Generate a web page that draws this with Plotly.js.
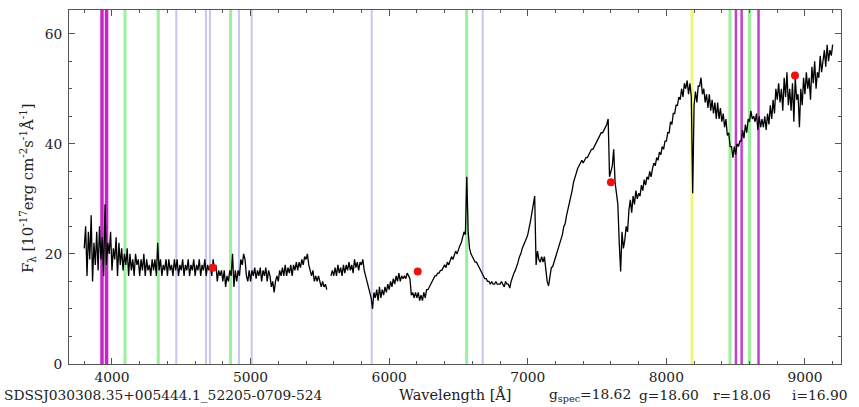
<!DOCTYPE html>
<html>
<head>
<meta charset="utf-8">
<script src="https://cdn.plot.ly/plotly-3.0.1.min.js"></script>
<style>html,body{margin:0;padding:0;background:#fff;}#chart{width:859px;height:407px;}</style>
</head>
<body>
<div id="chart"></div>
<script>
const waveStart = 3800;
const waveStep = 10;
const flux = [
 21,25,16,24,19,27,15,22,18,24,
 17,25,19,23,16,29,18,22,20,24,
 17,21,19,23,16,22,18,21,17,20,
 18,21,16,20,17,19,16,20,18,19,
 16,19,17,20,16,19,17,18,16,19,
 17,19,16,22,17,19,16,18,17,19,
 16,19,17,18,16,19,17,19,16,18,
 17,19,16,18,17,19,16,18,17,19,
 16,18,17,19,16,18,17,19,16,18,
 17,18,16,19,17,18,15,17,16,17,
 15,17,14,16,15,17,16,20,14,17,
 15,17,16,19,18,20,19,16,15,17,
 15,17,16,17.5,15.5,17,16,17.5,15,17,
 16,17.5,15,17,16,14,15,13,15,16,
 15,17,16,17.5,16,18,16,17.5,16.5,18,
 16,18,17,18.5,17,18.5,17.5,19,18,19.5,
 19,20,18,17,16,17,15,16,15,16,
 15,14,15,14,14.5,13.5,null,null,16,17,
 16,17.5,16,18,16.5,17.5,16,18,16.5,18,
 17,18.5,17,18,16.5,19,17.5,18.5,17,18.5,
 18,19,17,16,15,14,13,12,10,13,
 12,13.5,11.5,14,12,13.5,12.5,14,13,14.5,
 13.5,15,14,15.5,14.5,16,15,16.5,15,16,
 15.5,16,15.5,16.5,16,15.5,12.5,13,12,13,
 12,13,11.5,12.5,11.5,13,12,13.5,13.5,14,
 14.5,15,15.5,16,16,16.5,16.5,17,17,17.5,
 18,17.5,18.5,18,19,19.5,19,20,20.5,20,
 21,21.5,22,23,24,23.5,34,24,21,20,
 19.5,19,18.5,18.5,18,17.5,17,16.5,16,15.5,
 15.5,15,15,14.5,15,14.5,14.5,15,14.5,14.5,
 14.5,15,14.5,14,15,14.5,14.5,13.8,15,16,
 16.5,17,17.7,18.5,19.5,20,21,21.5,22,22.8,
 23.5,24.5,26,27.5,29,30.5,18,20.5,19,18.5,
 19.5,18.5,19.5,17,15,14.2,16,17.5,17.7,18.5,
 19.5,20.5,21,22,22.5,23.5,25,25.5,27,28,
 29,30.5,31.5,33,34,34.5,35.5,36,36.5,37,
 36.5,37,37.5,37.5,38,38.5,39,39,39.5,40,
 40.5,41,41.5,42,42,42.5,43,43.5,44.5,34,
 35,36,39,33,31,29,22,16.8,24,21,
 22.5,25,24,28,29.8,27.5,30.5,29,31.5,30,
 31,30.5,32.5,31.5,33.5,32.5,34,33.5,35,34,
 35.5,36.5,36,37.5,37,38.5,38,39.5,39,40.5,
 40.5,42,42,44,43.5,45.5,45.5,47,47,48.5,
 48,50,48.5,51,50,51.5,49,51,48.5,31,
 47,49.5,47.5,50.5,50.5,52,49,50,47.5,49,
 46.5,49,46,48,45.5,47.5,44.5,47.5,44.5,46.5,
 44,45.5,43,44.5,41.5,42,39.5,39.5,37.5,39.5,
 38,40,39.5,40.5,40.5,42.5,41,43.5,42,44.5,
 44,46,44.5,45,44,45.5,42.5,45,43,44.5,
 43,45,42.5,45.5,43.5,47,44.5,48,45.5,50,
 48,51,47.5,50,46,52,48.5,53,47,50,
 46,51,44,52,48,49,43,50,47,52,
 49,53,50,52,48,54,51,55,50,53,
 52,56,53,55,57,54,58,55,57,56,
 58
];

// Photometric points (red dots)
const photoWave = [4727, 6206, 7600, 8928];
const photoFlux = [17.5, 16.8, 33.0, 52.4];

// Line markers (wavelengths in Å)
const caHKLines = [3928, 3961];
const balmerLines = [4094, 4334, 4856, 6559, 8459, 8600];
const heLines = [4464, 4678, 4707, 4916, 5008, 5874, 6675];
const naLines = [8185];
const caTripletLines = [8502, 8543, 8665];

// Axis ticks
const xTicks = [4000, 5000, 6000, 7000, 8000, 9000];
const yTicks = [0, 20, 40, 60];

// Text
const objName = 'SDSSJ030308.35+005444.1_52205-0709-524';
const xLabel = 'Wavelength [Å]';
const yLabel = 'F<sub>λ</sub> [10<sup>-17</sup>erg cm<sup>-2</sup>s<sup>-1</sup>Å<sup>-1</sup>]';
const magLabels = ['g<sub>spec</sub>=18.62', 'g=18.60', 'r=18.06', 'i=16.90'];

const wave = flux.map((_, i) => waveStart + i * waveStep);

const FONT = 'DejaVu Serif, Liberation Serif, serif';

function vlines(list, color, width) {
  return list.map(w => ({
    type: 'line', xref: 'x', yref: 'paper', x0: w, x1: w, y0: 0, y1: 1,
    line: {color: color, width: width}, layer: 'below'
  }));
}

const shapes = [].concat(
  vlines(heLines, '#c6c6f0', 2),
  vlines(balmerLines, '#9cf09c', 3),
  vlines(naLines, '#f4f47a', 3),
  vlines(caHKLines, '#cc22cc', 3.5),
  vlines(caTripletLines, '#c040c8', 2.5)
);

const traces = [
  {x: wave, y: flux, type: 'scatter', mode: 'lines',
   line: {color: '#000', width: 1.3}, connectgaps: false, hoverinfo: 'skip'},
  {x: photoWave, y: photoFlux, type: 'scatter', mode: 'markers',
   marker: {color: '#ee1111', size: 8}, hoverinfo: 'skip'}
];

// Plot area pixel geometry
const L = 69, R = 841, T = 10, B = 364, W = 859, H = 407;
const pw = R - L, ph = B - T;
const px = x => (x - L) / pw;
const py = y => (B - y) / ph;

const font = s => ({family: FONT, size: s, color: '#222'});
const annotations = [
  {text: objName, x: px(2), y: py(395), xanchor: 'left', yanchor: 'middle', font: font(13.8)},
  {text: xLabel, x: px(397), y: py(394), xanchor: 'left', yanchor: 'middle', font: font(14.5)},
  {text: magLabels[0], x: px(547), y: py(395), xanchor: 'left', yanchor: 'middle', font: font(13.8)},
  {text: magLabels[1], x: px(637), y: py(395), xanchor: 'left', yanchor: 'middle', font: font(13.8)},
  {text: magLabels[2], x: px(711), y: py(395), xanchor: 'left', yanchor: 'middle', font: font(13.8)},
  {text: magLabels[3], x: px(790), y: py(395), xanchor: 'left', yanchor: 'middle', font: font(13.8)},
  {text: yLabel, x: px(28), y: py(188), xanchor: 'center', yanchor: 'middle', textangle: -90, font: font(14.8)}
].map(a => Object.assign({xref: 'paper', yref: 'paper', showarrow: false}, a));

const axisCommon = {
  showgrid: false, zeroline: false, showline: true, linecolor: '#555', linewidth: 1,
  mirror: 'allticks', ticks: 'inside', ticklen: 6, tickcolor: '#555', tickwidth: 1,
  tickfont: font(13.8)
};

const layout = {
  width: W, height: H,
  margin: {l: L, r: W - R, t: T, b: H - B, pad: 0},
  paper_bgcolor: '#fff', plot_bgcolor: '#fff',
  showlegend: false,
  xaxis: Object.assign({}, axisCommon, {
    range: [3690, 9260], tickmode: 'array', tickvals: xTicks, ticktext: xTicks.map(String),
    minor: {dtick: 200, tick0: 0, ticks: 'inside', ticklen: 3, tickcolor: '#555'}
  }),
  yaxis: Object.assign({}, axisCommon, {
    range: [0, 64.3], tickmode: 'array', tickvals: yTicks, ticktext: yTicks.map(String),
    ticklabelstandoff: 3,
    minor: {dtick: 5, tick0: 0, ticks: 'inside', ticklen: 3, tickcolor: '#555'}
  }),
  shapes: shapes,
  annotations: annotations
};

Plotly.newPlot('chart', traces, layout, {staticPlot: true, displayModeBar: false});
</script>
</body>
</html>
